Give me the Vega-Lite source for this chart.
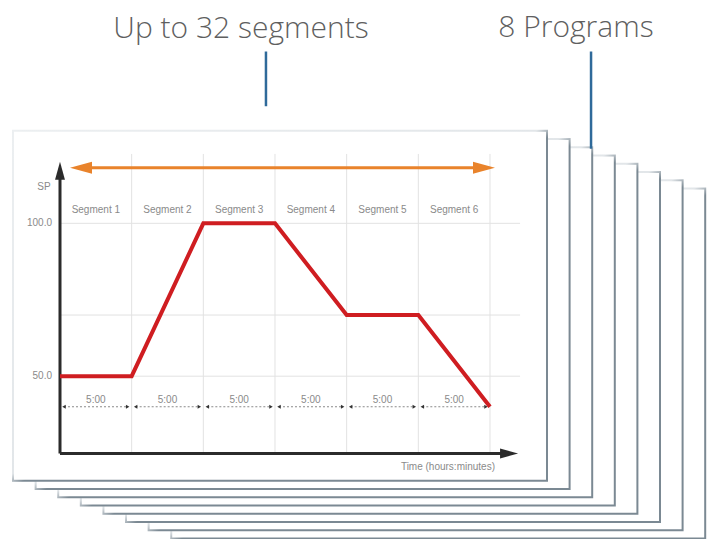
{
  "$schema": "https://vega.github.io/schema/vega-lite/v6.json",
  "width": 709,
  "height": 539,
  "autosize": {"type": "fit", "contains": "padding"},
  "padding": 0,
  "background": "#ffffff",
  "config": {"view": {"stroke": null}, "axis": {"disable": true}, "legend": {"disable": true}},
  "datasets": {
    "profile": [
      {"t": 0, "sp": 50}, {"t": 5, "sp": 50}, {"t": 10, "sp": 100}, {"t": 15, "sp": 100},
      {"t": 20, "sp": 70}, {"t": 25, "sp": 70}, {"t": 30, "sp": 40}
    ],
    "segments": [
      {"segment": "Segment 1", "start": 0, "mid": 2.5, "end": 5, "duration": "5:00"},
      {"segment": "Segment 2", "start": 5, "mid": 7.5, "end": 10, "duration": "5:00"},
      {"segment": "Segment 3", "start": 10, "mid": 12.5, "end": 15, "duration": "5:00"},
      {"segment": "Segment 4", "start": 15, "mid": 17.5, "end": 20, "duration": "5:00"},
      {"segment": "Segment 5", "start": 20, "mid": 22.5, "end": 25, "duration": "5:00"},
      {"segment": "Segment 6", "start": 25, "mid": 27.5, "end": 30, "duration": "5:00"}
    ],
    "levels": [
      {"sp": 50, "label": "50.0"}, {"sp": 70, "label": ""}, {"sp": 100, "label": "100.0"}
    ],
    "pages": [
      {"page": 8}, {"page": 7}, {"page": 6}, {"page": 5}, {"page": 4}, {"page": 3}, {"page": 2}, {"page": 1}
    ]
  },
  "resolve": {"scale": {"x": "independent", "y": "independent"}},
  "layer": [
    {
      "data": {"name": "pages"},
      "mark": {
        "type": "rect", "width": 534, "height": 350, "fill": "#ffffff", "strokeWidth": 2,
        "stroke": {
          "gradient": "linear", "x1": 0, "y1": 0, "x2": 1, "y2": 1,
          "stops": [
            {"offset": 0, "color": "#eceff1"},
            {"offset": 0.49, "color": "#e2e6e9"},
            {"offset": 0.51, "color": "#7b8993"},
            {"offset": 1, "color": "#7b8993"}
          ]
        }
      },
      "encoding": {
        "x": {"field": "page", "type": "quantitative", "scale": {"domain": [-11.389, 19.982], "nice": false, "zero": false}},
        "y": {"field": "page", "type": "quantitative", "scale": {"domain": [-36.108, 28.831], "nice": false, "zero": false, "reverse": true}}
      }
    },
    {
      "layer": [
        {
          "data": {"name": "segments"},
          "mark": {"type": "rule", "color": "#e2e2e2", "strokeWidth": 1},
          "encoding": {
            "x": {"field": "end", "type": "quantitative", "scale": {"domain": [-4.186, 45.28], "nice": false, "zero": false}},
            "y": {"datum": 122.7, "type": "quantitative", "scale": {"domain": [-1.948, 173.05], "nice": false, "zero": false}},
            "y2": {"datum": 24.7}
          }
        },
        {
          "data": {"name": "levels"},
          "mark": {"type": "rule", "color": "#e2e2e2", "strokeWidth": 1},
          "encoding": {
            "x": {"datum": 0, "type": "quantitative", "scale": {"domain": [-4.186, 45.28], "nice": false, "zero": false}},
            "x2": {"datum": 32.1},
            "y": {"field": "sp", "type": "quantitative", "scale": {"domain": [-1.948, 173.05], "nice": false, "zero": false}}
          }
        },
        {
          "data": {"values": [{"part": "segment span"}]},
          "mark": {"type": "rule", "color": "#e9832b", "strokeWidth": 3},
          "encoding": {
            "x": {"datum": 1.465, "type": "quantitative", "scale": {"domain": [-4.186, 45.28], "nice": false, "zero": false}},
            "x2": {"datum": 29.58},
            "y": {"datum": 118.2, "type": "quantitative", "scale": {"domain": [-1.948, 173.05], "nice": false, "zero": false}}
          }
        },
        {
          "data": {"values": [{"part": "span start"}]},
          "mark": {"type": "point", "shape": "M -1 0 L 1 -0.55 L 1 0.55 Z", "size": 484, "filled": true, "color": "#e9832b", "opacity": 1},
          "encoding": {
            "x": {"datum": 1.465, "type": "quantitative", "scale": {"domain": [-4.186, 45.28], "nice": false, "zero": false}},
            "y": {"datum": 118.2, "type": "quantitative", "scale": {"domain": [-1.948, 173.05], "nice": false, "zero": false}}
          }
        },
        {
          "data": {"values": [{"part": "span end"}]},
          "mark": {"type": "point", "shape": "M 1 0 L -1 -0.55 L -1 0.55 Z", "size": 484, "filled": true, "color": "#e9832b", "opacity": 1},
          "encoding": {
            "x": {"datum": 29.58, "type": "quantitative", "scale": {"domain": [-4.186, 45.28], "nice": false, "zero": false}},
            "y": {"datum": 118.2, "type": "quantitative", "scale": {"domain": [-1.948, 173.05], "nice": false, "zero": false}}
          }
        },
        {
          "data": {"values": [{"part": "y axis"}]},
          "mark": {"type": "rule", "color": "#2b2b2b", "strokeWidth": 3},
          "encoding": {
            "x": {"datum": 0, "type": "quantitative", "scale": {"domain": [-4.186, 45.28], "nice": false, "zero": false}},
            "y": {"datum": 24.7, "type": "quantitative", "scale": {"domain": [-1.948, 173.05], "nice": false, "zero": false}},
            "y2": {"datum": 117}
          }
        },
        {
          "data": {"values": [{"part": "y arrow"}]},
          "mark": {"type": "point", "shape": "M 0 -1 L 0.55 1 L -0.55 1 Z", "size": 324, "filled": true, "color": "#2b2b2b", "opacity": 1},
          "encoding": {
            "x": {"datum": 0, "type": "quantitative", "scale": {"domain": [-4.186, 45.28], "nice": false, "zero": false}},
            "y": {"datum": 117.2, "type": "quantitative", "scale": {"domain": [-1.948, 173.05], "nice": false, "zero": false}}
          }
        },
        {
          "data": {"values": [{"part": "x axis"}]},
          "mark": {"type": "rule", "color": "#2b2b2b", "strokeWidth": 3},
          "encoding": {
            "x": {"datum": 0, "type": "quantitative", "scale": {"domain": [-4.186, 45.28], "nice": false, "zero": false}},
            "x2": {"datum": 31.0},
            "y": {"datum": 24.7, "type": "quantitative", "scale": {"domain": [-1.948, 173.05], "nice": false, "zero": false}}
          }
        },
        {
          "data": {"values": [{"part": "x arrow"}]},
          "mark": {"type": "point", "shape": "M 1 0 L -1 -0.55 L -1 0.55 Z", "size": 324, "filled": true, "color": "#2b2b2b", "opacity": 1},
          "encoding": {
            "x": {"datum": 31.33, "type": "quantitative", "scale": {"domain": [-4.186, 45.28], "nice": false, "zero": false}},
            "y": {"datum": 24.7, "type": "quantitative", "scale": {"domain": [-1.948, 173.05], "nice": false, "zero": false}}
          }
        },
        {
          "data": {"name": "segments"},
          "mark": {"type": "rule", "color": "#8a8a8a", "strokeWidth": 1, "strokeDash": [2, 2], "xOffset": 4, "x2Offset": -4},
          "encoding": {
            "x": {"field": "start", "type": "quantitative", "scale": {"domain": [-4.186, 45.28], "nice": false, "zero": false}},
            "x2": {"field": "end"},
            "y": {"datum": 40, "type": "quantitative", "scale": {"domain": [-1.948, 173.05], "nice": false, "zero": false}}
          }
        },
        {
          "data": {"name": "segments"},
          "mark": {"type": "point", "shape": "triangle-left", "size": 16, "filled": true, "color": "#333333", "opacity": 1, "xOffset": 4},
          "encoding": {
            "x": {"field": "start", "type": "quantitative", "scale": {"domain": [-4.186, 45.28], "nice": false, "zero": false}},
            "y": {"datum": 40, "type": "quantitative", "scale": {"domain": [-1.948, 173.05], "nice": false, "zero": false}}
          }
        },
        {
          "data": {"name": "segments"},
          "mark": {"type": "point", "shape": "triangle-right", "size": 16, "filled": true, "color": "#333333", "opacity": 1, "xOffset": -4},
          "encoding": {
            "x": {"field": "end", "type": "quantitative", "scale": {"domain": [-4.186, 45.28], "nice": false, "zero": false}},
            "y": {"datum": 40, "type": "quantitative", "scale": {"domain": [-1.948, 173.05], "nice": false, "zero": false}}
          }
        },
        {
          "data": {"name": "profile"},
          "mark": {"type": "line", "color": "#cf1d21", "strokeWidth": 4, "strokeJoin": "miter"},
          "encoding": {
            "x": {"field": "t", "type": "quantitative", "scale": {"domain": [-4.186, 45.28], "nice": false, "zero": false}},
            "y": {"field": "sp", "type": "quantitative", "scale": {"domain": [-1.948, 173.05], "nice": false, "zero": false}}
          }
        },
        {
          "data": {"name": "segments"},
          "mark": {"type": "text", "font": "Liberation Sans", "fontSize": 10, "color": "#8a8a8a", "align": "center", "baseline": "middle"},
          "encoding": {
            "x": {"field": "mid", "type": "quantitative", "scale": {"domain": [-4.186, 45.28], "nice": false, "zero": false}},
            "y": {"datum": 104.5, "type": "quantitative", "scale": {"domain": [-1.948, 173.05], "nice": false, "zero": false}},
            "text": {"field": "segment"}
          }
        },
        {
          "data": {"name": "segments"},
          "mark": {"type": "text", "font": "Liberation Sans", "fontSize": 10, "color": "#8a8a8a", "align": "center", "baseline": "middle"},
          "encoding": {
            "x": {"field": "mid", "type": "quantitative", "scale": {"domain": [-4.186, 45.28], "nice": false, "zero": false}},
            "y": {"datum": 42.3, "type": "quantitative", "scale": {"domain": [-1.948, 173.05], "nice": false, "zero": false}},
            "text": {"field": "duration"}
          }
        },
        {
          "data": {"name": "levels"},
          "transform": [{"filter": "datum.label !== ''"}],
          "mark": {"type": "text", "font": "Liberation Sans", "fontSize": 10, "color": "#8a8a8a", "align": "right", "baseline": "middle"},
          "encoding": {
            "x": {"datum": -0.56, "type": "quantitative", "scale": {"domain": [-4.186, 45.28], "nice": false, "zero": false}},
            "y": {"field": "sp", "type": "quantitative", "scale": {"domain": [-1.948, 173.05], "nice": false, "zero": false}},
            "text": {"field": "label"}
          }
        },
        {
          "data": {"values": [{"label": "SP"}]},
          "mark": {"type": "text", "font": "Liberation Sans", "fontSize": 10, "color": "#8a8a8a", "align": "center", "baseline": "middle"},
          "encoding": {
            "x": {"datum": -1.116, "type": "quantitative", "scale": {"domain": [-4.186, 45.28], "nice": false, "zero": false}},
            "y": {"datum": 112.0, "type": "quantitative", "scale": {"domain": [-1.948, 173.05], "nice": false, "zero": false}},
            "text": {"field": "label"}
          }
        },
        {
          "data": {"values": [{"label": "Time (hours:minutes)"}]},
          "mark": {"type": "text", "font": "Liberation Sans", "fontSize": 10, "color": "#8a8a8a", "align": "right", "baseline": "middle"},
          "encoding": {
            "x": {"datum": 30.35, "type": "quantitative", "scale": {"domain": [-4.186, 45.28], "nice": false, "zero": false}},
            "y": {"datum": 20.45, "type": "quantitative", "scale": {"domain": [-1.948, 173.05], "nice": false, "zero": false}},
            "text": {"field": "label"}
          }
        },
        {
          "data": {"values": [{"label": "Up to 32 segments"}]},
          "mark": {"type": "text", "font": "Open Sans", "fontWeight": 300, "fontSize": 30, "color": "#5f5f5f", "align": "center", "baseline": "alphabetic"},
          "encoding": {
            "x": {"datum": 12.63, "type": "quantitative", "scale": {"domain": [-4.186, 45.28], "nice": false, "zero": false}},
            "y": {"datum": 160.7, "type": "quantitative", "scale": {"domain": [-1.948, 173.05], "nice": false, "zero": false}},
            "text": {"field": "label"}
          }
        },
        {
          "data": {"values": [{"label": "8 Programs"}]},
          "mark": {"type": "text", "font": "Open Sans", "fontWeight": 300, "fontSize": 30, "color": "#5f5f5f", "align": "center", "baseline": "alphabetic"},
          "encoding": {
            "x": {"datum": 36.0, "type": "quantitative", "scale": {"domain": [-4.186, 45.28], "nice": false, "zero": false}},
            "y": {"datum": 161.0, "type": "quantitative", "scale": {"domain": [-1.948, 173.05], "nice": false, "zero": false}},
            "text": {"field": "label"}
          }
        },
        {
          "data": {"values": [{"part": "segments pointer"}]},
          "mark": {"type": "rule", "color": "#2f6a9a", "strokeWidth": 2.5},
          "encoding": {
            "x": {"datum": 14.37, "type": "quantitative", "scale": {"domain": [-4.186, 45.28], "nice": false, "zero": false}},
            "y": {"datum": 156.2, "type": "quantitative", "scale": {"domain": [-1.948, 173.05], "nice": false, "zero": false}},
            "y2": {"datum": 138.3}
          }
        },
        {
          "data": {"values": [{"part": "programs pointer"}]},
          "mark": {"type": "rule", "color": "#2f6a9a", "strokeWidth": 2.5},
          "encoding": {
            "x": {"datum": 37.05, "type": "quantitative", "scale": {"domain": [-4.186, 45.28], "nice": false, "zero": false}},
            "y": {"datum": 156.2, "type": "quantitative", "scale": {"domain": [-1.948, 173.05], "nice": false, "zero": false}},
            "y2": {"datum": 124.4}
          }
        }
      ]
    }
  ]
}
